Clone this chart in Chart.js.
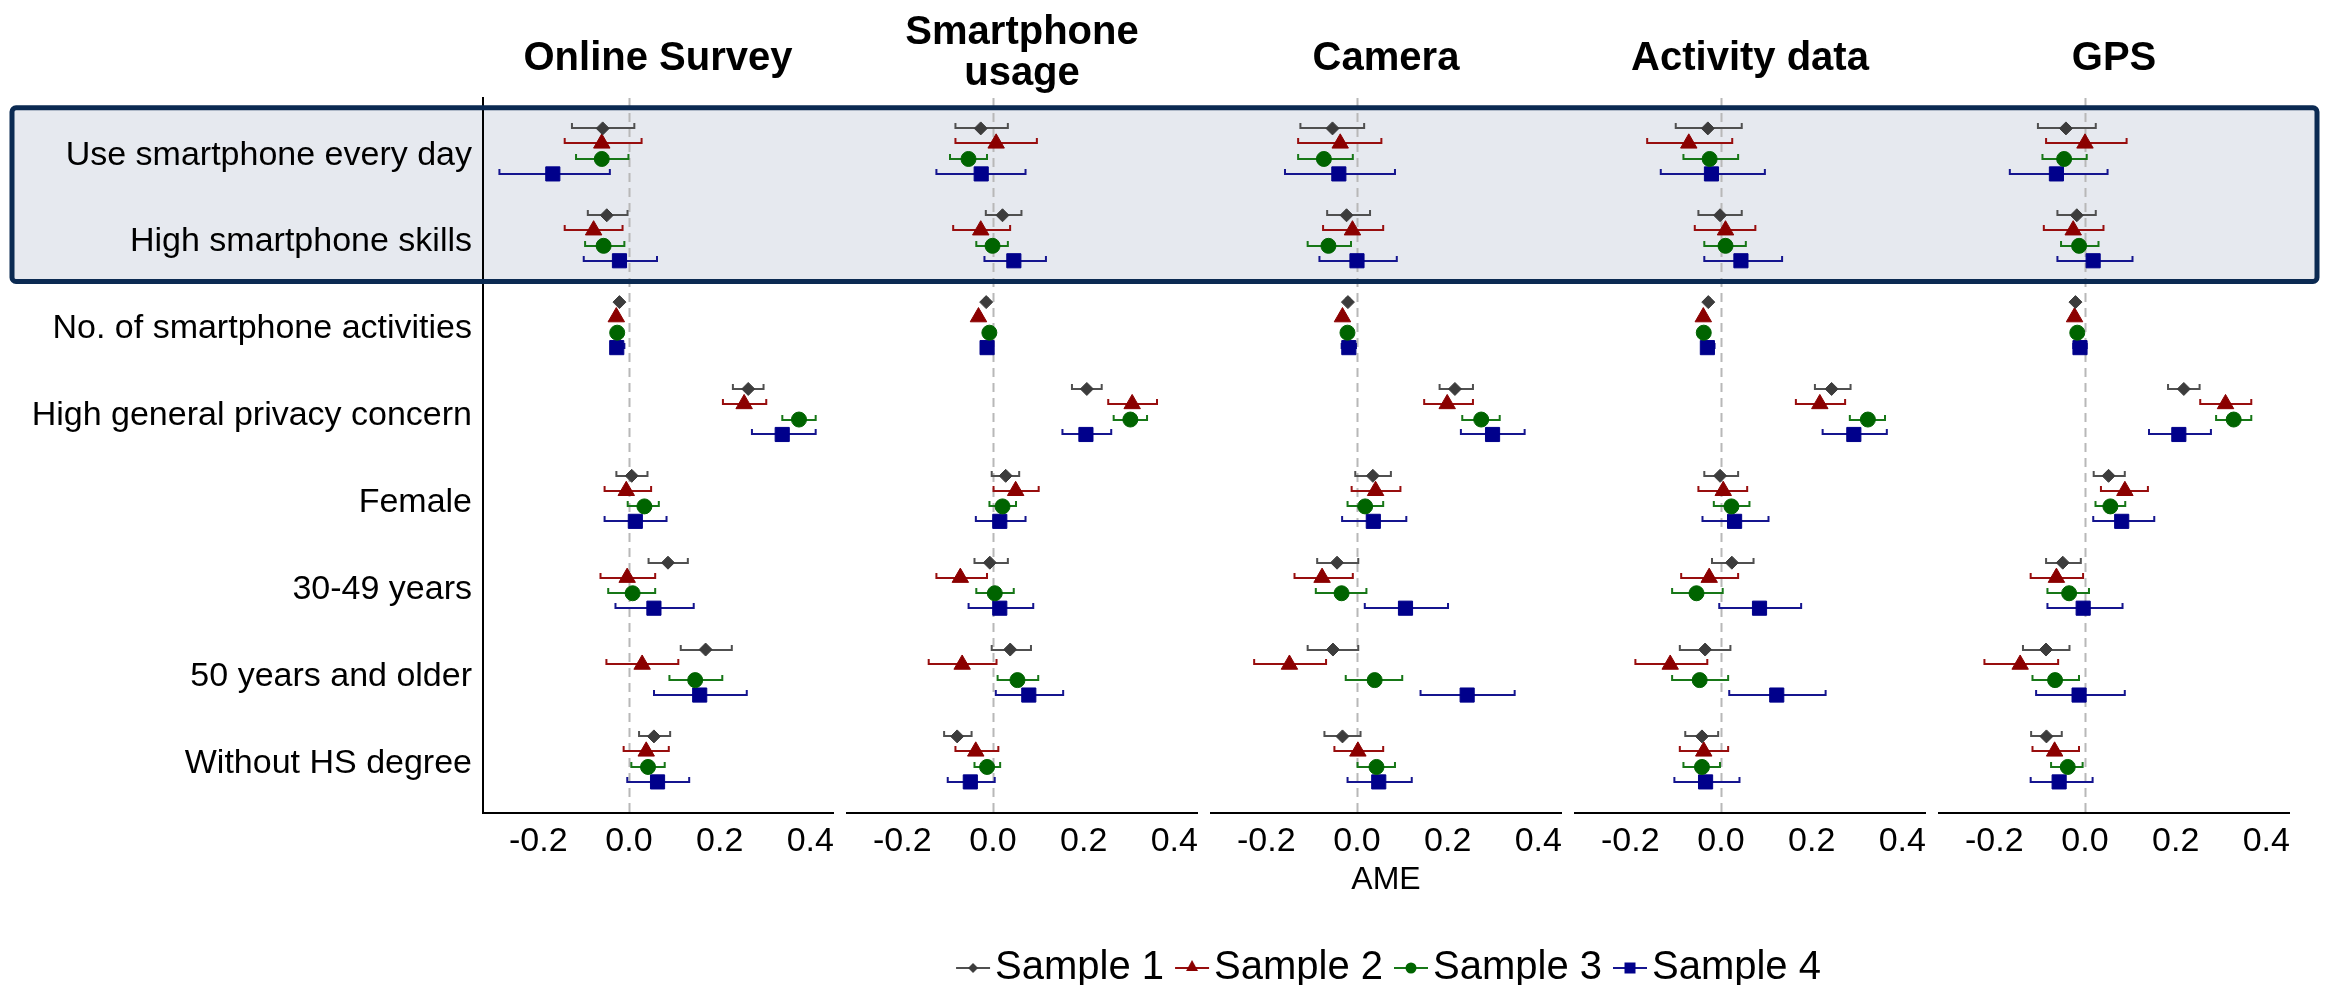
<!DOCTYPE html>
<html><head><meta charset="utf-8">
<script src="https://cdn.jsdelivr.net/npm/chart.js@4.4.1/dist/chart.umd.min.js"></script>
<style>
html,body{margin:0;padding:0;background:#fff;overflow:hidden;}
#wrap{position:relative;width:2328px;height:985px;overflow:hidden;background:#fff;}
#wrap canvas{position:absolute;left:0;}
</style></head><body><div id="wrap"></div>
<script>
// ---------------- DATA ----------------
const rowLabels = ["Use smartphone every day","High smartphone skills","No. of smartphone activities","High general privacy concern","Female","30-49 years","50 years and older","Without HS degree"];
const rows = [1,2,3,4,5,6,7,8];
const panelTitles = [["Online Survey"],["Smartphone","usage"],["Camera"],["Activity data"],["GPS"]];
const sampleNames = ["Sample 1","Sample 2","Sample 3","Sample 4"];
const xTicks = [-0.2, 0.0, 0.2, 0.4];
const xAxisTitle = "AME";
const highlightRows = [0.5, 2.5];

// each array: [Sample1[], Sample2[], Sample3[], Sample4[]] over the 8 rows
const surveyEst = [[-0.058,-0.049,-0.021,0.263,0.006,0.086,0.169,0.055],[-0.060,-0.078,-0.028,0.254,-0.006,-0.004,0.029,0.038],[-0.060,-0.056,-0.026,0.375,0.034,0.008,0.146,0.042],[-0.168,-0.021,-0.027,0.338,0.014,0.055,0.156,0.063]];
const surveyLo  = [[-0.128,-0.093,-0.026,0.227,-0.030,0.041,0.112,0.020],[-0.144,-0.144,-0.034,0.205,-0.056,-0.065,-0.052,-0.014],[-0.119,-0.099,-0.032,0.336,-0.005,-0.048,0.087,0.003],[-0.288,-0.102,-0.040,0.269,-0.056,-0.032,0.053,-0.006]];
const surveyHi  = [[0.014,-0.001,-0.016,0.299,0.043,0.132,0.229,0.093],[0.030,-0.012,-0.022,0.305,0.051,0.060,0.111,0.090],[0.001,-0.008,-0.020,0.414,0.068,0.060,0.208,0.081],[-0.040,0.064,-0.008,0.414,0.085,0.145,0.262,0.135]];

const usageEst = [[-0.027,0.021,-0.015,0.207,0.028,-0.007,0.038,-0.079],[0.007,-0.027,-0.032,0.307,0.050,-0.072,-0.068,-0.038],[-0.054,-0.001,-0.008,0.303,0.021,0.004,0.054,-0.013],[-0.026,0.046,-0.013,0.205,0.015,0.015,0.079,-0.050]];
const usageLo  = [[-0.085,-0.018,-0.020,0.172,-0.005,-0.043,-0.005,-0.110],[-0.085,-0.090,-0.038,0.252,-0.001,-0.127,-0.144,-0.085],[-0.097,-0.039,-0.021,0.264,-0.010,-0.039,0.008,-0.043],[-0.127,-0.021,-0.024,0.151,-0.040,-0.056,0.004,-0.102]];
const usageHi  = [[0.035,0.065,-0.010,0.242,0.060,0.035,0.086,-0.045],[0.099,0.040,-0.026,0.364,0.103,-0.011,0.010,0.014],[-0.011,0.035,0.005,0.342,0.053,0.048,0.102,0.018],[0.074,0.119,-0.002,0.263,0.074,0.091,0.157,0.006]];

const cameraEst = [[-0.054,-0.023,-0.020,0.216,0.035,-0.044,-0.053,-0.032],[-0.037,-0.010,-0.032,0.199,0.041,-0.077,-0.149,0.002],[-0.073,-0.063,-0.021,0.274,0.018,-0.034,0.039,0.043],[-0.040,0.000,-0.018,0.299,0.036,0.107,0.243,0.048]];
const cameraLo  = [[-0.127,-0.068,-0.025,0.180,-0.006,-0.090,-0.111,-0.074],[-0.132,-0.077,-0.038,0.146,-0.014,-0.140,-0.229,-0.052],[-0.132,-0.111,-0.027,0.230,-0.023,-0.093,-0.027,-0.001],[-0.161,-0.085,-0.036,0.227,-0.035,0.015,0.138,-0.023]];
const cameraHi  = [[0.018,0.031,-0.015,0.258,0.077,0.005,0.005,0.010],[0.056,0.060,-0.026,0.258,0.098,-0.007,-0.066,0.060],[-0.007,-0.011,-0.015,0.317,0.060,0.023,0.102,0.086],[0.086,0.090,0.000,0.372,0.111,0.203,0.350,0.123]];

const activityEst = [[-0.029,-0.002,-0.028,0.244,-0.002,0.024,-0.035,-0.042],[-0.071,0.010,-0.039,0.218,0.005,-0.026,-0.112,-0.038],[-0.025,0.010,-0.038,0.324,0.023,-0.054,-0.047,-0.042],[-0.021,0.044,-0.030,0.293,0.030,0.085,0.123,-0.034]];
const activityLo  = [[-0.102,-0.052,-0.033,0.205,-0.039,-0.022,-0.093,-0.081],[-0.165,-0.060,-0.045,0.163,-0.052,-0.090,-0.191,-0.093],[-0.085,-0.039,-0.044,0.282,-0.018,-0.110,-0.110,-0.085],[-0.135,-0.039,-0.044,0.222,-0.043,-0.006,0.016,-0.105]];
const activityHi  = [[0.048,0.048,-0.023,0.288,0.040,0.074,0.023,-0.004],[0.027,0.078,-0.033,0.276,0.060,0.040,-0.028,0.018],[0.040,0.057,-0.032,0.364,0.065,0.006,0.018,0.000],[0.099,0.137,-0.012,0.368,0.107,0.179,0.233,0.043]];

const gpsEst = [[-0.042,-0.018,-0.021,0.218,0.052,-0.049,-0.086,-0.085],[0.000,-0.026,-0.023,0.310,0.088,-0.063,-0.143,-0.067],[-0.046,-0.013,-0.017,0.328,0.056,-0.035,-0.066,-0.038],[-0.063,0.018,-0.011,0.207,0.081,-0.004,-0.013,-0.057]];
const gpsLo  = [[-0.106,-0.063,-0.026,0.181,0.017,-0.088,-0.139,-0.121],[-0.088,-0.093,-0.029,0.252,0.033,-0.122,-0.224,-0.118],[-0.096,-0.055,-0.023,0.287,0.021,-0.085,-0.118,-0.077],[-0.168,-0.063,-0.028,0.139,0.016,-0.085,-0.110,-0.122]];
const gpsHi  = [[0.026,0.026,-0.016,0.255,0.090,-0.007,-0.032,-0.049],[0.094,0.043,-0.017,0.369,0.141,-0.002,-0.057,-0.011],[0.006,0.032,-0.011,0.369,0.091,0.011,-0.011,-0.003],[0.052,0.107,0.006,0.280,0.155,0.085,0.090,0.019]];

// ---------------- STYLE / LAYOUT ----------------
const W = 2328, H = 985;
const FONT = "'Liberation Sans', Arial, Helvetica, sans-serif";
const markerColors = ['#3c3c3c','#8b0000','#006400','#00008b'];
const barColors = ['#505050','#980e0e','#177717','#15158f'];
const pointStyles = ['rectRot','triangle','circle','rect'];
const pointRadii = [6.5, 9.5, 7.5, 10];
const dodge = [-0.262, -0.09, 0.09, 0.262];
const panelLeft = [483, 847, 1211, 1575, 1939];
const panelWidth = 350;
const plotBottom = 813;
const yMin = 0.388, yMax = 8.62;
const xMin = -0.322, xMax = 0.45;

const panels = [
  {est: surveyEst, lo: surveyLo, hi: surveyHi},
  {est: usageEst, lo: usageLo, hi: usageHi},
  {est: cameraEst, lo: cameraLo, hi: cameraHi},
  {est: activityEst, lo: activityLo, hi: activityHi},
  {est: gpsEst, lo: gpsLo, hi: gpsHi}
];

Chart.defaults.font.family = FONT;
const wrap = document.getElementById('wrap');
function makeCanvas(top, height) {
  const c = document.createElement('canvas');
  c.width = W; c.height = height;
  c.style.width = W + 'px'; c.style.height = height + 'px'; c.style.top = top + 'px';
  wrap.appendChild(c);
  return c;
}

const errorBarPlugin = {
  id: 'errorBars',
  beforeDatasetsDraw(chart, args, opts) {
    const {ctx, chartArea} = chart;
    const x = chart.scales.x, y = chart.scales.y;
    const p = panels[opts.index];
    ctx.save();
    // dashed zero reference line
    const zx = Math.round(x.getPixelForValue(0)) + 0.5;
    ctx.strokeStyle = '#b8b8b8'; ctx.lineWidth = 2; ctx.setLineDash([9, 6]);
    ctx.beginPath(); ctx.moveTo(zx, chartArea.top); ctx.lineTo(zx, chartArea.bottom); ctx.stroke();
    ctx.setLineDash([]);
    for (let s = 0; s < 4; s++) {
      ctx.strokeStyle = barColors[s]; ctx.lineWidth = 2;
      for (let r = 0; r < rows.length; r++) {
        const py = Math.round(y.getPixelForValue(rows[r] + dodge[s]));
        const x1 = x.getPixelForValue(p.lo[s][r]);
        const x2 = x.getPixelForValue(p.hi[s][r]);
        ctx.beginPath();
        ctx.moveTo(x1, py); ctx.lineTo(x2, py);
        ctx.moveTo(x1 + 1, py - 5); ctx.lineTo(x1 + 1, py + 1);
        ctx.moveTo(x2 - 1, py - 5); ctx.lineTo(x2 - 1, py + 1);
        ctx.stroke();
      }
    }
    ctx.restore();
  }
};

const boxPlugin = {
  id: 'highlightBox',
  beforeDraw(chart, args, opts) {
    if (!opts.fill) return;
    const y = chart.scales.y, ctx = chart.ctx;
    const t = y.getPixelForValue(highlightRows[0]), b = y.getPixelForValue(highlightRows[1]);
    ctx.save(); ctx.fillStyle = '#e6e9ef';
    ctx.fillRect(12, Math.min(t, b), 2305, Math.abs(b - t));
    ctx.restore();
  },
  afterDraw(chart, args, opts) {
    if (!opts.stroke) return;
    const y = chart.scales.y, ctx = chart.ctx;
    const t = y.getPixelForValue(highlightRows[0]), b = y.getPixelForValue(highlightRows[1]);
    ctx.save(); ctx.strokeStyle = '#0b2a52'; ctx.lineWidth = 5; ctx.lineJoin = 'round';
    ctx.beginPath();
    if (ctx.roundRect) ctx.roundRect(12, Math.min(t, b), 2305, Math.abs(b - t), 4);
    else ctx.rect(12, Math.min(t, b), 2305, Math.abs(b - t));
    ctx.stroke();
    ctx.restore();
  }
};

panels.forEach((p, i) => {
  const canvas = makeCanvas(0, H);
  const twoLine = panelTitles[i].length > 1;
  const datasets = sampleNames.map((name, s) => ({
    label: name,
    data: rows.map((rv, k) => ({x: p.est[s][k], y: rv + dodge[s]})),
    pointStyle: pointStyles[s],
    pointRadius: pointRadii[s],
    backgroundColor: markerColors[s],
    borderColor: markerColors[s],
    borderWidth: 1,
    showLine: false
  }));
  const yScale = {
    type: 'linear', reverse: true, min: yMin, max: yMax, display: i === 0,
    afterBuildTicks: s => { s.ticks = rows.map(v => ({value: v})); },
    grid: {display: false, drawTicks: false},
    border: {display: true, color: '#000', width: 2},
    ticks: {font: {family: FONT, size: 34}, color: '#000', padding: 11, labelOffset: 4, autoSkip: false,
            callback: (v, idx) => rowLabels[idx]}
  };
  if (i === 0) yScale.afterFit = s => { s.width = panelLeft[0]; };
  new Chart(canvas, {
    type: 'scatter',
    data: {datasets},
    plugins: [boxPlugin, errorBarPlugin],
    options: {
      responsive: false, maintainAspectRatio: false, animation: false, devicePixelRatio: 1, events: [],
      layout: {padding: {left: i === 0 ? 0 : panelLeft[i], right: W - panelLeft[i] - panelWidth, top: 0, bottom: 0}},
      plugins: {
        legend: {display: false}, tooltip: {enabled: false},
        title: {
          display: true, fullSize: false, align: 'center', text: panelTitles[i], color: '#000',
          font: {family: FONT, size: 40, weight: 'bold', lineHeight: 1.025},
          padding: twoLine ? {top: 12, bottom: 4} : {top: 38.5, bottom: 18.5}
        },
        errorBars: {index: i},
        highlightBox: {fill: i === 0, stroke: i === panels.length - 1}
      },
      scales: {
        x: {
          type: 'linear', min: xMin, max: xMax,
          afterBuildTicks: s => { s.ticks = xTicks.map(v => ({value: v})); },
          afterFit: s => { s.height = H - plotBottom; },
          grid: {display: false, drawTicks: false},
          border: {display: true, color: '#000', width: 2},
          ticks: {font: {family: FONT, size: 34}, color: '#000', padding: 8, maxRotation: 0, autoSkip: false,
                  callback: v => Number(v).toFixed(1)},
          title: {display: i === 2, text: xAxisTitle, color: '#000', font: {family: FONT, size: 32}, padding: {top: 0, bottom: 86}}
        },
        y: yScale
      }
    }
  });
});

// ---------------- LEGEND ----------------
function legendSymbol(s) {
  const c = document.createElement('canvas'); c.width = 36; c.height = 20;
  const g = c.getContext('2d');
  g.strokeStyle = barColors[s]; g.lineWidth = 2;
  g.beginPath(); g.moveTo(1, 10); g.lineTo(35, 10); g.stroke();
  g.fillStyle = markerColors[s];
  g.beginPath();
  const cx = 18, cy = 10;
  if (s === 0) { g.moveTo(cx - 5, cy); g.lineTo(cx, cy - 5); g.lineTo(cx + 5, cy); g.lineTo(cx, cy + 5); }
  else if (s === 1) { g.moveTo(cx, cy - 8); g.lineTo(cx + 6, cy + 3); g.lineTo(cx - 6, cy + 3); }
  else if (s === 2) { g.arc(cx, cy, 5.5, 0, Math.PI * 2); }
  else { g.rect(cx - 5.5, cy - 5.5, 11, 11); }
  g.closePath(); g.fill();
  return c;
}
const legendSyms = sampleNames.map((n, s) => legendSymbol(s));
const legendCanvas = makeCanvas(700, 300);
new Chart(legendCanvas, {
  type: 'scatter',
  data: {datasets: sampleNames.map((name, s) => ({label: name, data: [], backgroundColor: markerColors[s]}))},
  options: {
    responsive: false, maintainAspectRatio: false, animation: false, devicePixelRatio: 1, events: [],
    layout: {padding: {left: 505, right: 41, top: 0, bottom: 2}},
    scales: {x: {display: false}, y: {display: false}},
    plugins: {
      tooltip: {enabled: false},
      legend: {
        display: true, position: 'bottom', align: 'center',
        labels: {
          usePointStyle: true, pointStyleWidth: 4, padding: 26, color: '#000',
          font: {family: FONT, size: 40},
          generateLabels: () => sampleNames.map((name, s) => ({
            text: name, pointStyle: legendSyms[s], fillStyle: markerColors[s], strokeStyle: markerColors[s],
            lineWidth: 0, hidden: false, datasetIndex: s, fontColor: '#000'
          }))
        }
      }
    }
  }
});
</script>
</body></html>
